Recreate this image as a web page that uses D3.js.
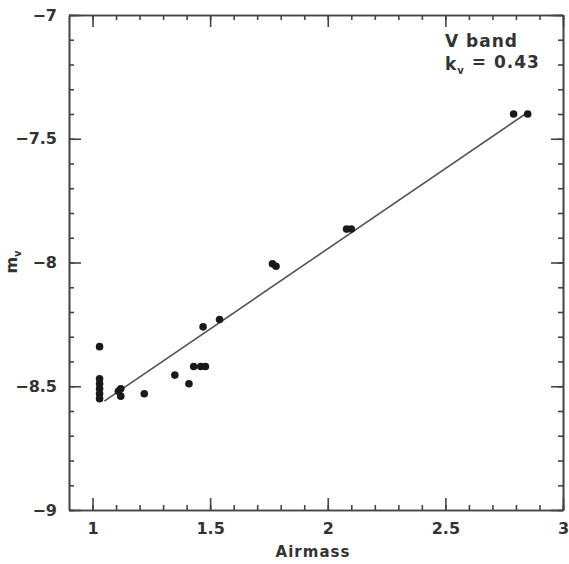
<!DOCTYPE html>
<html>
<head>
<meta charset="utf-8">
<script src="https://cdn.jsdelivr.net/npm/d3@7"></script>
<style>
  body { margin: 0; background: #fff; }
  text { font-family: "DejaVu Sans", "Liberation Sans", sans-serif; font-weight: bold; fill: #333; }
</style>
</head>
<body>
<svg id="chart" width="569" height="564"></svg>
<script>
// measured points (airmass vs instrumental magnitude)
const airmass = [1.03, 1.03, 1.03, 1.03, 1.03, 1.03, 1.11, 1.12, 1.12, 1.22, 1.35, 1.41,
                 1.43, 1.46, 1.48, 1.47, 1.54, 1.765, 1.78, 2.08, 2.10, 2.79, 2.85];
const mv = [-8.34, -8.47, -8.49, -8.51, -8.53, -8.55, -8.52, -8.51, -8.54, -8.53, -8.455, -8.49,
            -8.42, -8.42, -8.42, -8.26, -8.23, -8.005, -8.015, -7.865, -7.865, -7.40, -7.40];
// fitted extinction line endpoints
const fitX = [1.05, 2.84];
const fitY = [-8.56, -7.40];

const xMajor = [1, 1.5, 2, 2.5, 3];
const yMajor = [-9, -8.5, -8, -7.5, -7];

const svg = d3.select("#chart");
const plotLeft = 69, plotRight = 563, plotTop = 15, plotBottom = 510;

const x = d3.scaleLinear().domain([0.9, 3.0]).range([plotLeft, plotRight]);
const y = d3.scaleLinear().domain([-9, -7]).range([plotBottom, plotTop]);

const xMinor = d3.range(10, 31).map(d => d / 10);
const yMinor = d3.range(-90, -69).map(d => d / 10);

const axisColor = "#444";

function drawAxis(axis, tx, ty) {
    const g = svg.append("g").attr("transform", `translate(${tx},${ty})`).call(axis);
    g.selectAll("path, line").attr("stroke", axisColor).attr("stroke-width", 1.6);
    g.selectAll("text").attr("fill", "#333").attr("font-size", 16)
        .attr("font-family", "DejaVu Sans").attr("font-weight", "bold");
    return g;
}

// minor ticks on all four sides
drawAxis(d3.axisBottom(x).tickValues(xMinor).tickSize(-5).tickSizeOuter(0).tickFormat(""), 0, plotBottom);
drawAxis(d3.axisTop(x).tickValues(xMinor).tickSize(-5).tickSizeOuter(0).tickFormat(""), 0, plotTop);
drawAxis(d3.axisLeft(y).tickValues(yMinor).tickSize(-5).tickSizeOuter(0).tickFormat(""), plotLeft, 0);
drawAxis(d3.axisRight(y).tickValues(yMinor).tickSize(-5).tickSizeOuter(0).tickFormat(""), plotRight, 0);

// major ticks, labels only on bottom and left
drawAxis(d3.axisBottom(x).tickValues(xMajor).tickSize(-12).tickSizeOuter(0)
    .tickPadding(25).tickFormat(d3.format("")), 0, plotBottom)
    .selectAll("text").attr("dy", "-0.05em");
drawAxis(d3.axisTop(x).tickValues(xMajor).tickSize(-12).tickSizeOuter(0).tickFormat(""), 0, plotTop);
drawAxis(d3.axisLeft(y).tickValues(yMajor).tickSize(-12).tickSizeOuter(0)
    .tickPadding(12).tickFormat(d3.format("")), plotLeft, 0);
drawAxis(d3.axisRight(y).tickValues(yMajor).tickSize(-12).tickSizeOuter(0).tickFormat(""), plotRight, 0);

// fitted line
svg.append("path")
    .datum(d3.zip(fitX, fitY))
    .attr("fill", "none")
    .attr("stroke", "#555")
    .attr("stroke-width", 1.6)
    .attr("d", d3.line().x(d => x(d[0])).y(d => y(d[1])));

// data points
svg.append("g")
    .selectAll("circle")
    .data(d3.zip(airmass, mv))
    .join("circle")
    .attr("cx", d => x(d[0]))
    .attr("cy", d => y(d[1]))
    .attr("r", 3.8)
    .attr("fill", "#1a1a1a");

// axis titles
svg.append("text")
    .attr("x", 313)
    .attr("y", 557)
    .attr("text-anchor", "middle")
    .attr("font-size", 15)
    .attr("letter-spacing", 1)
    .text("Airmass");

const ylab = svg.append("text")
    .attr("transform", "translate(17,262) rotate(-90)")
    .attr("text-anchor", "middle")
    .attr("font-size", 16);
ylab.append("tspan").text("m");
ylab.append("tspan").attr("font-size", 10).attr("dy", "0.35em").text("v");

// annotation
svg.append("text").attr("x", 445).attr("y", 47).attr("font-size", 17)
    .attr("letter-spacing", 1).text("V band");
const ann = svg.append("text").attr("x", 445).attr("y", 70).attr("font-size", 17)
    .attr("letter-spacing", 1).style("white-space", "pre");
ann.append("tspan").text("k");
ann.append("tspan").attr("font-size", 10).attr("dy", "0.35em").text("v");
ann.append("tspan").attr("dy", "-0.35em").attr("font-size", 17).text(" = 0.43");
</script>
</body>
</html>
